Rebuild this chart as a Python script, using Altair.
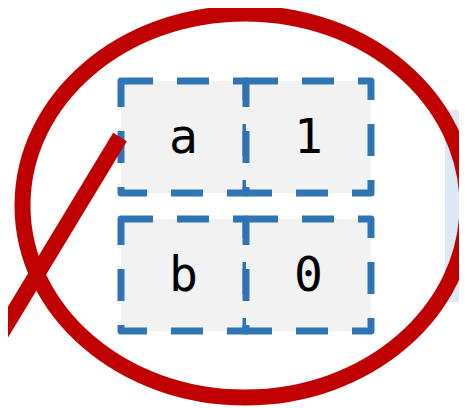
import altair as alt
import pandas as pd

# table content
keys = ["a", "b"]
values = [1, 0]
columns = ["key", "value"]

rows = []
for k, v in zip(keys, values):
    rows.append({"row": k, "col": "key", "text": k})
    rows.append({"row": k, "col": "value", "text": str(v)})
df = pd.DataFrame(rows)
one = pd.DataFrame({"k": [0]})

xs = alt.X("col:N", scale=alt.Scale(type="band", domain=columns, range=[113, 363],
                                    paddingInner=0, paddingOuter=0), axis=None)
ys = alt.Y("row:N", scale=alt.Scale(type="band", domain=keys, range=[73, 323],
                                    paddingInner=0.1884, paddingOuter=0), axis=None)

side = alt.Chart(one).mark_rect(color="#dde8f5").encode(
    x=alt.value(437), x2=alt.value(480), y=alt.value(102), y2=alt.value(294))

cells = alt.Chart(df).mark_rect(
    fill="#f2f2f2", stroke="#2e75b6", strokeWidth=7, strokeDash=[32, 24],
    strokeJoin="round").encode(x=xs, y=ys)

labels = alt.Chart(df).mark_text(
    font="DejaVu Sans Mono", fontSize=48, baseline="middle", align="center",
    color="black", dy=2).encode(x=xs, y=ys, text="text:N")

k = 0.8629
c = 0.5523
ky = k * c
ell_path = (f"M 1 0 C 1 {ky:.4f} {c} {k} 0 {k} C -{c} {k} -1 {ky:.4f} -1 0 "
            f"C -1 -{ky:.4f} -{c} -{k} 0 -{k} C {c} -{k} 1 -{ky:.4f} 1 0 Z")

ellipse = alt.Chart(one).mark_point(
    shape=ell_path, filled=False, stroke="#c00000", strokeWidth=16,
    size=445 * 445, opacity=1).encode(x=alt.value(237), y=alt.value(197.5))

slash = alt.Chart(one).mark_rule(
    color="#c00000", strokeWidth=16, strokeCap="butt").encode(
    x=alt.value(112), y=alt.value(129), x2=alt.value(-20), y2=alt.value(347))

chart = alt.layer(side, cells, labels, ellipse, slash).properties(
    width=451, height=400, padding=0, autosize="none"
).configure_view(stroke="transparent")

chart.save("out.html", embed_options={"renderer": "svg", "actions": False})
